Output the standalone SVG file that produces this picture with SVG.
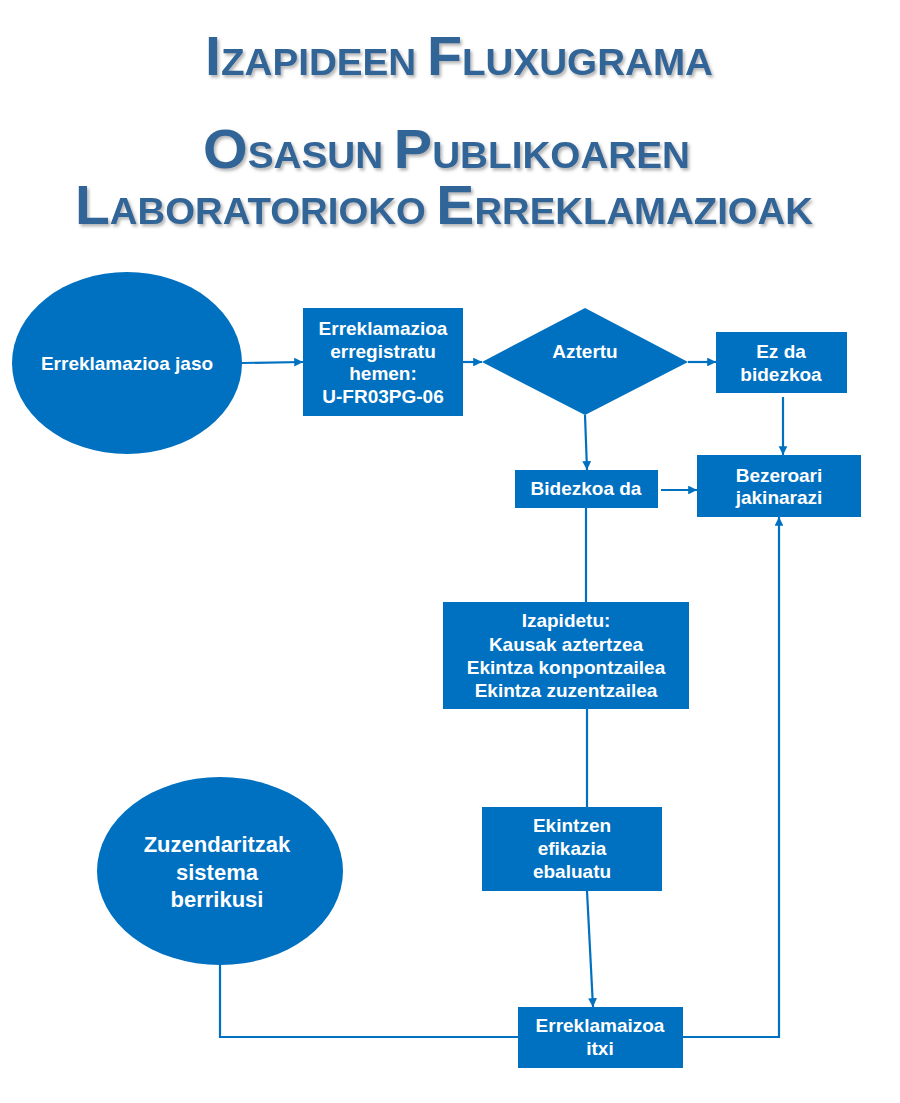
<svg xmlns="http://www.w3.org/2000/svg" width="900" height="1103" viewBox="0 0 900 1103">
<defs>
<filter id="sh" x="-5%" y="-20%" width="110%" height="150%">
<feDropShadow dx="2" dy="2.5" stdDeviation="1.5" flood-color="#7a7a7a" flood-opacity="0.55"/>
</filter>
<marker id="ah" viewBox="0 0 10 10" refX="10" refY="5" markerWidth="4" markerHeight="4" orient="auto" markerUnits="strokeWidth">
<path d="M0,0 L10,5 L0,10 z" fill="#0070C0"/>
</marker>
<style>
.t{font-family:"Liberation Sans",Arial,sans-serif;font-weight:bold;fill:#306597}
.b{font-size:55px}
.s{font-size:37px}
.n{fill:#0070C0}
.lb{font-family:"Liberation Sans",Arial,sans-serif;font-weight:bold;font-size:19px;fill:#ffffff;text-anchor:middle}
.lg{font-size:22px}
.c{fill:none;stroke:#0070C0;stroke-width:2.2}
.a{marker-end:url(#ah)}
</style>
</defs>
<rect width="900" height="1103" fill="#ffffff"/>
<g id="title" filter="url(#sh)">
<text class="t" x="205" y="75" textLength="508" lengthAdjust="spacingAndGlyphs"><tspan class="b">I</tspan><tspan class="s">ZAPIDEEN </tspan><tspan class="b">F</tspan><tspan class="s">LUXUGRAMA</tspan></text>
<text class="t" x="203" y="168" textLength="487" lengthAdjust="spacingAndGlyphs"><tspan class="b">O</tspan><tspan class="s">SASUN </tspan><tspan class="b">P</tspan><tspan class="s">UBLIKOAREN</tspan></text>
<text class="t" x="75" y="224" textLength="738" lengthAdjust="spacingAndGlyphs"><tspan class="b">L</tspan><tspan class="s">ABORATORIOKO </tspan><tspan class="b">E</tspan><tspan class="s">RREKLAMAZIOAK</tspan></text>
</g>
<g id="connectors">
<line class="c a" x1="242" y1="363" x2="303" y2="362"/>
<line class="c a" x1="463" y1="362" x2="482" y2="362"/>
<line class="c a" x1="688" y1="362" x2="716" y2="362"/>
<line class="c a" x1="783" y1="397" x2="783" y2="455"/>
<line class="c a" x1="585" y1="415" x2="587" y2="470"/>
<line class="c a" x1="661" y1="490" x2="697" y2="490"/>
<line class="c" x1="586" y1="508" x2="586" y2="602"/>
<line class="c" x1="587" y1="709" x2="587" y2="807"/>
<line class="c a" x1="587" y1="891" x2="593" y2="1007"/>
<polyline class="c" points="220,964 220,1037 518,1037"/>
<polyline class="c a" points="683,1037 779,1037 779,517"/>
</g>
<g id="n-receive">
<ellipse class="n" cx="127" cy="363" rx="115" ry="91"/>
<text class="lb" x="127" y="370">Erreklamazioa jaso</text>
</g>
<g id="n-register">
<rect class="n" x="303" y="308" width="160" height="108"/>
<text class="lb" x="383" y="335">Erreklamazioa</text>
<text class="lb" x="383" y="358">erregistratu</text>
<text class="lb" x="383" y="380">hemen:</text>
<text class="lb" x="383" y="403">U-FR03PG-06</text>
</g>
<g id="n-aztertu">
<polygon class="n" points="482,362 585,308 688,362 585,415"/>
<text class="lb" x="585" y="358">Aztertu</text>
</g>
<g id="n-ezda">
<rect class="n" x="716" y="332" width="131" height="61"/>
<text class="lb" x="781" y="358">Ez da</text>
<text class="lb" x="781" y="381">bidezkoa</text>
</g>
<g id="n-bidezkoa">
<rect class="n" x="515" y="470" width="143" height="38"/>
<text class="lb" x="586" y="495">Bidezkoa da</text>
</g>
<g id="n-bezeroari">
<rect class="n" x="697" y="455" width="164" height="62"/>
<text class="lb" x="779" y="482">Bezeroari</text>
<text class="lb" x="779" y="504">jakinarazi</text>
</g>
<g id="n-izapidetu">
<rect class="n" x="443" y="602" width="246" height="107"/>
<text class="lb" x="566" y="627">Izapidetu:</text>
<text class="lb" x="566" y="651">Kausak aztertzea</text>
<text class="lb" x="566" y="674">Ekintza konpontzailea</text>
<text class="lb" x="566" y="697">Ekintza zuzentzailea</text>
</g>
<g id="n-ekintzen">
<rect class="n" x="482" y="807" width="180" height="84"/>
<text class="lb" x="572" y="832">Ekintzen</text>
<text class="lb" x="572" y="855">efikazia</text>
<text class="lb" x="572" y="878">ebaluatu</text>
</g>
<g id="n-zuzendaritza">
<ellipse class="n" cx="220" cy="871" rx="123" ry="94"/>
<text class="lb lg" x="217" y="852">Zuzendaritzak</text>
<text class="lb lg" x="217" y="880">sistema</text>
<text class="lb lg" x="217" y="907">berrikusi</text>
</g>
<g id="n-itxi">
<rect class="n" x="518" y="1007" width="165" height="61"/>
<text class="lb" x="600" y="1032">Erreklamaizoa</text>
<text class="lb" x="600" y="1055">itxi</text>
</g>
</svg>
